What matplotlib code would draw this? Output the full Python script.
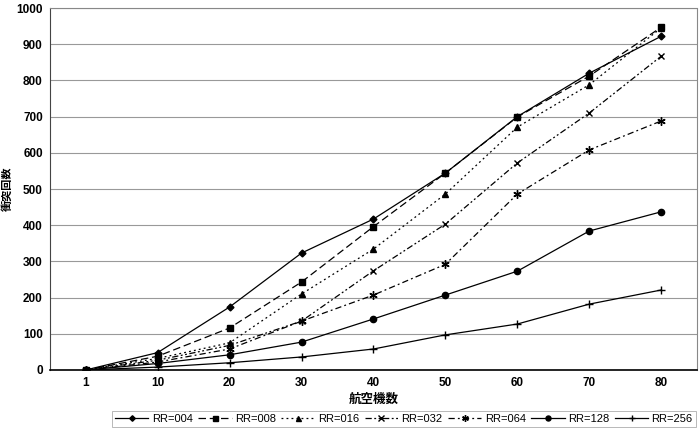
import numpy as np
import matplotlib.pyplot as plt

plt.rcParams['font.family'] = ['Liberation Sans', 'Noto Sans CJK JP', 'DejaVu Sans']

categories = ['1', '10', '20', '30', '40', '50', '60', '70', '80']
rr004 = [0, 48, 174, 323, 417, 544, 700, 820, 922]
rr008 = [0, 38, 116, 243, 396, 544, 699, 812, 947]
rr016 = [0, 32, 75, 210, 334, 486, 671, 788, 945]
rr032 = [0, 27, 68, 135, 274, 403, 572, 710, 867]
rr064 = [0, 22, 58, 135, 207, 292, 486, 608, 688]
rr128 = [0, 18, 42, 77, 141, 207, 273, 384, 437]
rr256 = [0, 8, 20, 36, 58, 97, 127, 182, 221]

series = [
    ('RR=004', rr004, '-', 'D', 3.5),
    ('RR=008', rr008, (0, (6, 3)), 's', 4.5),
    ('RR=016', rr016, (0, (1.5, 2.5)), '^', 4.5),
    ('RR=032', rr032, (0, (5, 2, 1.5, 2, 1.5, 2)), 'x', 5),
    ('RR=064', rr064, (0, (5, 2.5, 1.5, 2.5)), (6, 2, 0), 6),
    ('RR=128', rr128, '-', 'o', 4.5),
    ('RR=256', rr256, '-', '+', 6),
]

fig = plt.figure(figsize=(7, 4.33), dpi=100)
ax = fig.add_axes([0.071, 0.1455, 0.925, 0.836])

x = np.arange(len(categories))
for name, vals, ls, mk, ms in series:
    ax.plot(x, vals, color='black', linestyle=ls, linewidth=0.9, marker=mk,
            markersize=ms, markeredgewidth=1.0, label=name)

ax.set_xlim(-0.5, len(categories) - 0.5)
ax.set_ylim(0, 1000)
ax.set_yticks(np.arange(0, 1001, 100))
ax.set_xticks(x)
ax.set_xticklabels(categories)
ax.grid(axis='y', color='#999999', linewidth=0.8)
ax.set_axisbelow(True)
ax.tick_params(axis='both', length=0, labelsize=8.5, pad=5)
for lab in ax.get_xticklabels() + ax.get_yticklabels():
    lab.set_fontweight('bold')

for side in ['top', 'right']:
    ax.spines[side].set_color('#888888')
    ax.spines[side].set_linestyle((0, (1, 1)))
    ax.spines[side].set_linewidth(0.8)
ax.spines['left'].set_color('#444444')
ax.spines['bottom'].set_color('black')
ax.spines['bottom'].set_linewidth(1.2)

ax.set_xlabel('航空機数', family=['Noto Sans CJK JP'], fontsize=9,
              fontweight='bold', labelpad=3)
ax.set_ylabel('衝突回数', family=['Noto Sans CJK JP'], fontsize=8,
              fontweight='bold', labelpad=2)

leg = fig.legend(loc='lower center', bbox_to_anchor=(0.577, 0.0), ncol=7,
                 fontsize=8, frameon=True, fancybox=False, handlelength=3,
                 handletextpad=0.3, columnspacing=0.5, borderpad=0.3,
                 edgecolor='#999999', markerscale=0.8)
leg.get_frame().set_linewidth(0.6)

fig.savefig('out.png', dpi=100)
